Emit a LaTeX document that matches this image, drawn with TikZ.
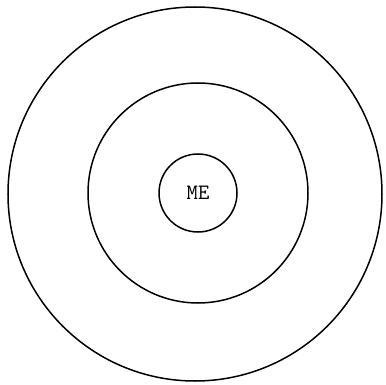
\documentclass[tikz,border=0pt]{standalone}
\begin{document}
\begin{tikzpicture}[x=1pt,y=-1pt,
  ring/.style={draw=black,line width=1.5pt,circle,inner sep=0pt},
  lbl/.style={font=\ttfamily\fontsize{22}{26}\selectfont}]
\useasboundingbox (0,0) rectangle (386,385);
\draw[line width=1.5pt] (195,194) circle [radius=187];
\draw[line width=1.5pt] (198,193) circle [radius=110];
\node[ring,minimum size=78pt] (me) at (198,193) {};
\node[lbl] (t) at (me.center) {ME};
\end{tikzpicture}
\end{document}
